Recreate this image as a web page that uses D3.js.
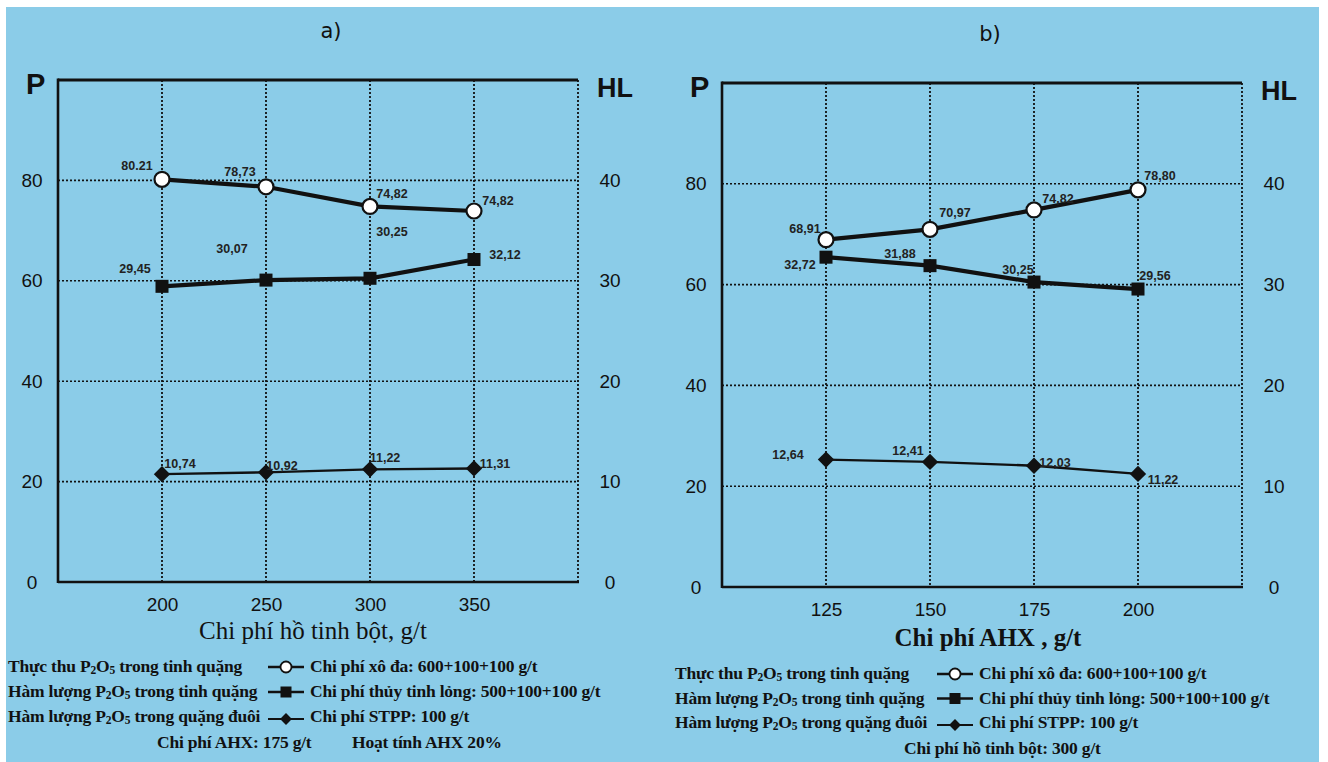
<!DOCTYPE html>
<html>
<head>
<meta charset="utf-8">
<script src="https://cdn.jsdelivr.net/npm/d3@7"></script>
<style>
  html, body { margin: 0; padding: 0; background: #ffffff; }
  svg { display: block; }
</style>
</head>
<body>
<svg id="chart" width="1328" height="762"></svg>
<script>
// ---------------- DATA ----------------
// Panel a) : x = Chi phí hồ tinh bột (g/t)
const catsA = [200, 250, 300, 350];
const recoveryA = [80.21, 78.73, 74.82, 73.9];      // P axis (circles)
const gradeA = [29.45, 30.07, 30.25, 32.12];        // HL axis (squares)
const tailA = [10.74, 10.92, 11.22, 11.31];         // HL axis (diamonds)
const recoveryLabelsA = ["80.21", "78,73", "74,82", "74,82"];
const gradeLabelsA = ["29,45", "30,07", "30,25", "32,12"];
const tailLabelsA = ["10,74", "10,92", "11,22", "11,31"];

// Panel b) : x = Chi phí AHX (g/t)
const catsB = [125, 150, 175, 200];
const recoveryB = [68.91, 70.97, 74.82, 78.80];
const gradeB = [32.72, 31.88, 30.25, 29.56];
const tailB = [12.64, 12.41, 12.03, 11.22];
const recoveryLabelsB = ["68,91", "70,97", "74,82", "78,80"];
const gradeLabelsB = ["32,72", "31,88", "30,25", "29,56"];
const tailLabelsB = ["12,64", "12,41", "12,03", "11,22"];

// Axis ticks
const pTicks = [0, 20, 40, 60, 80];
const hlTicks = [0, 10, 20, 30, 40];

// Label placement offsets (layout only)
const offRecA = [[-25,-14],[-26,-15],[22,-13],[24,-10]];
const offGradeA = [[-27,-18],[-34,-31],[22,-47],[31,-5]];
const offTailA = [[18,-11],[16,-7],[15,-12],[21,-5]];
const offRecB = [[-21,-11],[25,-17],[24,-11],[22,-14]];
const offGradeB = [[-26,7],[-30,-12],[-16,-12],[17,-13]];
const offTailB = [[-38,-5],[-22,-11],[21,-3],[25,6]];

// ---------------- DRAW ----------------
const svg = d3.select("#chart");
svg.append("rect").attr("x", 6).attr("y", 7).attr("width", 1313).attr("height", 755)
  .attr("fill", "#8bcce8");

const sans = "'Liberation Sans', Arial, sans-serif";
const serif = "'Liberation Serif', 'Times New Roman', serif";

function panel(cfg) {
  const g = svg.append("g");
  const x = d3.scaleLinear().domain(cfg.xDomain).range([cfg.left, cfg.right]);
  const yP = d3.scaleLinear().domain([0, 100]).range([cfg.bottom, cfg.top]);
  const yH = d3.scaleLinear().domain([0, 50]).range([cfg.bottom, cfg.top]);

  // grid: horizontal dotted
  g.append("g").selectAll("line").data(pTicks.filter(d => d > 0)).join("line")
    .attr("x1", cfg.left).attr("x2", cfg.right)
    .attr("y1", d => yP(d)).attr("y2", d => yP(d))
    .attr("stroke", "#111").attr("stroke-width", 1.6).attr("stroke-dasharray", "2,2");
  // grid: vertical dotted at categories and right edge
  g.append("g").selectAll("line").data(cfg.cats.concat([cfg.xDomain[1]])).join("line")
    .attr("x1", d => x(d)).attr("x2", d => x(d))
    .attr("y1", cfg.top).attr("y2", cfg.bottom)
    .attr("stroke", "#111").attr("stroke-width", 1.8).attr("stroke-dasharray", "2,2");

  // frame: top, left, bottom
  g.append("line").attr("x1", cfg.left).attr("x2", cfg.right).attr("y1", cfg.top).attr("y2", cfg.top)
    .attr("stroke", "#111").attr("stroke-width", 3.2);
  g.append("line").attr("x1", cfg.left).attr("x2", cfg.left).attr("y1", cfg.top - 1.5).attr("y2", cfg.bottom + 1)
    .attr("stroke", "#111").attr("stroke-width", 2.6);
  g.append("line").attr("x1", cfg.left).attr("x2", cfg.right + 1).attr("y1", cfg.bottom).attr("y2", cfg.bottom)
    .attr("stroke", "#111").attr("stroke-width", 2.6);

  // axes (text only)
  const axL = g.append("g").attr("transform", `translate(${cfg.left - 26},0)`)
    .call(d3.axisLeft(yP).tickValues(pTicks).tickSize(0).tickPadding(0));
  const axR = g.append("g").attr("transform", `translate(${cfg.right + 20},0)`)
    .call(d3.axisRight(yH).tickValues(hlTicks).tickSize(0).tickPadding(0));
  const axB = g.append("g").attr("transform", `translate(0,${cfg.bottom + 15})`)
    .call(d3.axisBottom(x).tickValues(cfg.cats).tickSize(0).tickPadding(0).tickFormat(d3.format("d")));
  [axL, axR, axB].forEach(a => {
    a.select(".domain").remove();
    a.selectAll("text").attr("font-family", sans).attr("font-size", 19).attr("fill", "#111");
  });
  axL.selectAll("text").attr("text-anchor", "middle");
  axR.selectAll("text").attr("text-anchor", "middle").attr("x", 12);
  axB.selectAll("text").attr("dy", "0.71em");

  // corner titles
  g.append("text").attr("x", cfg.left - 32).attr("y", cfg.top + 14).text("P")
    .attr("font-family", sans).attr("font-size", 29).attr("font-weight", "bold").attr("fill", "#111");
  g.append("text").attr("x", cfg.right + 19).attr("y", cfg.top + 17).text("HL")
    .attr("font-family", sans).attr("font-size", 27).attr("fill", "#111").attr("font-weight", "bold");
  g.append("text").attr("x", cfg.titleX).attr("y", cfg.titleY).text(cfg.title)
    .attr("font-family", "'DejaVu Sans', sans-serif").attr("font-size", 21).attr("text-anchor", "middle").attr("fill", "#111");
  g.append("text").attr("x", cfg.xTitleX).attr("y", cfg.bottom + cfg.xTitleDy).text(cfg.xTitle)
    .attr("font-family", serif).attr("font-size", 25).attr("font-weight", cfg.xTitleWeight)
    .attr("text-anchor", "middle").attr("fill", "#111");

  // series
  const lineP = d3.line().x((d, i) => x(cfg.cats[i])).y(d => yP(d));
  const lineH = d3.line().x((d, i) => x(cfg.cats[i])).y(d => yH(d));

  g.append("path").attr("d", lineH(cfg.tail)).attr("fill", "none").attr("stroke", "#111").attr("stroke-width", 2.4);
  g.append("path").attr("d", lineH(cfg.grade)).attr("fill", "none").attr("stroke", "#111").attr("stroke-width", 4.2);
  g.append("path").attr("d", lineP(cfg.rec)).attr("fill", "none").attr("stroke", "#111").attr("stroke-width", 4.2);

  const diamond = d3.symbol().type(d3.symbolDiamond2).size(170);
  g.append("g").selectAll("path").data(cfg.tail).join("path")
    .attr("d", diamond).attr("transform", (d, i) => `translate(${x(cfg.cats[i])},${yH(d)})`)
    .attr("fill", "#111");
  g.append("g").selectAll("rect").data(cfg.grade).join("rect")
    .attr("x", (d, i) => x(cfg.cats[i]) - 6.5).attr("y", d => yH(d) - 6.5)
    .attr("width", 13).attr("height", 13).attr("fill", "#111");
  g.append("g").selectAll("circle").data(cfg.rec).join("circle")
    .attr("cx", (d, i) => x(cfg.cats[i])).attr("cy", d => yP(d)).attr("r", 7.5)
    .attr("fill", "#fff").attr("stroke", "#111").attr("stroke-width", 2.2);

  function labels(vals, texts, offs, yS) {
    g.append("g").selectAll("text").data(vals).join("text")
      .attr("x", (d, i) => x(cfg.cats[i]) + offs[i][0])
      .attr("y", (d, i) => yS(d) + offs[i][1])
      .attr("dy", "0.35em").attr("text-anchor", "middle")
      .attr("font-family", sans).attr("font-size", 12.5).attr("font-weight", "bold").attr("fill", "#222")
      .text((d, i) => texts[i]);
  }
  labels(cfg.rec, cfg.recLabels, cfg.offRec, yP);
  labels(cfg.grade, cfg.gradeLabels, cfg.offGrade, yH);
  labels(cfg.tail, cfg.tailLabels, cfg.offTail, yH);
}

panel({
  cats: catsA, xDomain: [150, 400], left: 58, right: 578, top: 80, bottom: 582,
  rec: recoveryA, grade: gradeA, tail: tailA,
  recLabels: recoveryLabelsA, gradeLabels: gradeLabelsA, tailLabels: tailLabelsA,
  offRec: offRecA, offGrade: offGradeA, offTail: offTailA,
  title: "a)", titleX: 331, titleY: 38, xTitle: "Chi phí hồ tinh bột, g/t", xTitleX: 313, xTitleDy: 57, xTitleWeight: "normal"
});
panel({
  cats: catsB, xDomain: [100, 225], left: 722, right: 1242, top: 83, bottom: 587,
  rec: recoveryB, grade: gradeB, tail: tailB,
  recLabels: recoveryLabelsB, gradeLabels: gradeLabelsB, tailLabels: tailLabelsB,
  offRec: offRecB, offGrade: offGradeB, offTail: offTailB,
  title: "b)", titleX: 990, titleY: 41, xTitle: "Chi phí AHX , g/t", xTitleX: 988, xTitleDy: 59, xTitleWeight: "bold"
});

// ---------------- LEGENDS ----------------
function p2o5(sel, pre, post) {
  sel.append("tspan").text(pre + "P");
  sel.append("tspan").text("2").attr("font-size", 11.5).attr("dy", 2);
  sel.append("tspan").text("O").attr("dy", -2);
  sel.append("tspan").text("5").attr("font-size", 11.5).attr("dy", 2);
  sel.append("tspan").text(post).attr("dy", -2);
}
function legend(cfg) {
  const g = svg.append("g").attr("font-family", serif).attr("font-size", 17.5).attr("font-weight", "bold")
    .attr("fill", "#111").attr("letter-spacing", -0.2);
  const rows = [
    { pre: "Thực thu ", post: " trong tinh quặng", right: cfg.r1, sym: "circle", lw: 2.4 },
    { pre: "Hàm lượng ", post: " trong tinh quặng", right: cfg.r2, sym: "square", lw: 2.4 },
    { pre: "Hàm lượng ", post: " trong quặng đuôi", right: cfg.r3, sym: "diamond", lw: 2 }
  ];
  rows.forEach((r, i) => {
    const y = cfg.y0 + i * cfg.dy;
    const t = g.append("text").attr("x", cfg.x0).attr("y", y);
    p2o5(t, r.pre, r.post);
    const sx0 = cfg.sx, sx1 = cfg.sx + 36, sy = y - 5 + (r.sym === "diamond" ? 2 : 0);
    g.append("line").attr("x1", sx0).attr("x2", sx1).attr("y1", sy).attr("y2", sy)
      .attr("stroke", "#111").attr("stroke-width", r.lw);
    const cx = (sx0 + sx1) / 2;
    if (r.sym === "circle") {
      g.append("circle").attr("cx", cx).attr("cy", sy).attr("r", 5.5).attr("fill", "#fff").attr("stroke", "#111").attr("stroke-width", 1.8);
    } else if (r.sym === "square") {
      g.append("rect").attr("x", cx - 5.5).attr("y", sy - 5.5).attr("width", 11).attr("height", 11).attr("fill", "#111");
    } else {
      g.append("path").attr("d", d3.symbol().type(d3.symbolDiamond2).size(90)).attr("transform", `translate(${cx},${sy})`).attr("fill", "#111");
    }
    g.append("text").attr("x", cfg.sx + 42).attr("y", y).text(r.right);
  });
  cfg.extra.forEach(e => {
    g.append("text").attr("x", e[1]).attr("y", cfg.y0 + 3 * cfg.dy + 1).text(e[0]);
  });
}
legend({ x0: 8, y0: 672, dy: 25, sx: 268,
  r1: "Chi phí xô đa: 600+100+100 g/t",
  r2: "Chi phí thủy tinh lỏng: 500+100+100 g/t",
  r3: "Chi phí STPP: 100 g/t",
  extra: [["Chi phí AHX: 175 g/t", 157], ["Hoạt tính AHX 20%", 352]] });
legend({ x0: 675, y0: 679, dy: 24.5, sx: 937,
  r1: "Chi phí xô đa: 600+100+100 g/t",
  r2: "Chi phí thủy tinh lỏng: 500+100+100 g/t",
  r3: "Chi phí STPP: 100 g/t",
  extra: [["Chi phí hồ tinh bột: 300 g/t", 904]] });
</script>
</body>
</html>
